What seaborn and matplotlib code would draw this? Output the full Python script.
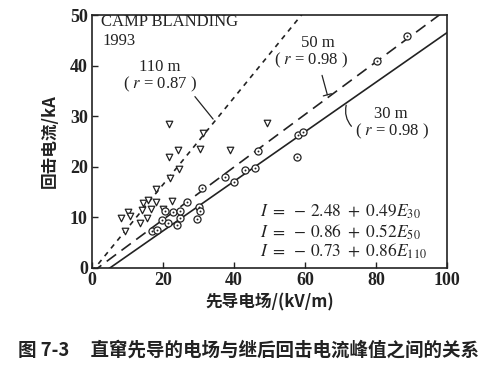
import numpy as np
import pandas as pd
import matplotlib
matplotlib.use("Agg")
import matplotlib.pyplot as plt
import seaborn as sns

# 110 m data (inverted triangles)
e110 = [8.1, 9.3, 10.2, 10.7, 13.5, 14.0, 14.3, 15.4, 15.9, 16.5, 18.0, 18.0,
        20.1, 22.0, 21.8, 22.4, 21.8, 24.3, 24.6, 30.4, 31.3, 38.9, 49.4]
i110 = [9.8, 7.2, 11.0, 10.2, 8.8, 11.4, 12.8, 9.8, 13.4, 11.7, 13.1, 15.7,
        11.6, 17.8, 21.9, 13.3, 28.5, 23.4, 19.6, 23.5, 26.6, 23.4, 28.7]

# 50 m data
e50 = [16.8, 18.2, 19.6, 20.6, 22.9, 26.8, 30.9, 37.5, 46.8, 80.2, 88.6]
i50 = [7.2, 7.5, 9.5, 11.2, 11.0, 13.1, 15.8, 18.0, 23.2, 40.9, 45.8]

# 30 m data
e30 = [21.5, 23.9, 24.8, 24.8, 29.5, 30.2, 30.4, 40.0, 43.1, 45.9, 57.7, 58.0, 59.3]
i30 = [8.8, 8.5, 9.8, 11.2, 9.6, 12.1, 11.3, 16.9, 19.4, 19.7, 22.0, 26.3, 26.9]

# regression lines I = a + b*E (from the chart)
fit_names = ["30 m", "50 m", "110 m"]
fit_a = [-2.48, -0.86, -0.73]
fit_b = [0.49, 0.52, 0.86]

x_ticks = [0, 20, 40, 60, 80, 100]
y_ticks = [0, 10, 20, 30, 40, 50]

sns.set_theme(style="ticks")
plt.rcParams["font.family"] = ["Liberation Serif", "Noto Sans CJK SC", "DejaVu Sans"]
plt.rcParams["mathtext.fontset"] = "stix"
cjk = ["Noto Sans CJK SC", "DejaVu Sans"]

fig = plt.figure(figsize=(5.0, 3.67), dpi=100)
ax = fig.add_axes([0.184, 0.270, 0.710, 0.689])

# fit lines
e_grid = np.linspace(0, 100, 201)
lines = pd.DataFrame({
    "E": np.tile(e_grid, 3),
    "I": np.concatenate([a + b * e_grid for a, b in zip(fit_a, fit_b)]),
    "site": np.repeat(fit_names, len(e_grid)),
})
styles = {"30 m": "-", "50 m": (0, (7, 4)), "110 m": (0, (3, 3))}
for name in fit_names:
    sub = lines[lines["site"] == name]
    sns.lineplot(data=sub, x="E", y="I", ax=ax, color="#222222", lw=1.2,
                 linestyle=styles[name], legend=False)

# points
pts110 = pd.DataFrame({"E": e110, "I": i110})
sns.scatterplot(data=pts110, x="E", y="I", ax=ax, marker="v", s=22,
                facecolor="white", edgecolor="#222222", linewidth=0.9, zorder=3)
circ = pd.DataFrame({"E": e50 + e30, "I": i50 + i30})
sns.scatterplot(data=circ, x="E", y="I", ax=ax, marker="o", s=26,
                facecolor="white", edgecolor="#222222", linewidth=0.9, zorder=3)
sns.scatterplot(data=circ, x="E", y="I", ax=ax, marker="o", s=2,
                color="#222222", linewidth=0, zorder=4)

ax.set_xlim(0, 100)
ax.set_ylim(0, 50)
ax.set_xticks(x_ticks)
ax.set_yticks(y_ticks)
ax.tick_params(direction="in", length=4, width=1.0, labelsize=13,
               colors="#222222", pad=3)
for lab in ax.get_xticklabels() + ax.get_yticklabels():
    lab.set_fontweight("bold")
for sp in ax.spines.values():
    sp.set_visible(True)
    sp.set_linewidth(1.2)
    sp.set_color("#222222")

ax.set_xlabel("先导电场/(kV/m)", family=cjk, fontsize=12, fontweight="bold",
              color="#222222", labelpad=3)
ax.set_ylabel("回击电流/kA", family=cjk, fontsize=12, fontweight="bold",
              color="#222222", labelpad=8)

# annotations
txt = dict(fontsize=12, color="#222222")
ax.text(2.5, 48.7, "CAMP BLANDING", va="center", ha="left", **txt)
ax.text(3.0, 44.8, "1993", va="center", ha="left", **txt)

ax.text(19.2, 39.7, "110 m", ha="center", va="center", **txt)
ax.text(19.2, 36.3, r"( $r$ = 0.87 )", ha="center", va="center", **txt)
ax.annotate("", xy=(34.6, 29.0), xytext=(28.5, 34.3),
            arrowprops=dict(arrowstyle="-", color="#222222", lw=0.9))

ax.text(63.7, 44.4, "50 m", ha="center", va="center", **txt)
ax.text(61.6, 41.0, r"( $r$ = 0.98 )", ha="center", va="center", **txt)
ax.annotate("", xy=(66.5, 33.7), xytext=(64.6, 38.6),
            arrowprops=dict(arrowstyle="-[, widthB=0.25, lengthB=0", color="#222222", lw=0.9))

ax.text(84.3, 30.5, "30 m", ha="center", va="center", **txt)
ax.text(84.4, 27.0, r"( $r$ = 0.98 )", ha="center", va="center", **txt)
ax.annotate("", xy=(71.8, 32.7), xytext=(73.6, 27.6),
            arrowprops=dict(arrowstyle="-", color="#222222", lw=0.9,
                            connectionstyle="arc3,rad=-0.3"))

eq = dict(fontsize=12.5, color="#222222", ha="left", va="center")
ax.text(47.3, 11.1, r"$I\ =\ -\,2.48\ +\ 0.49E_{30}$", **eq)
ax.text(47.3, 7.1, r"$I\ =\ -\,0.86\ +\ 0.52E_{50}$", **eq)
ax.text(47.3, 3.2, r"$I\ =\ -\,0.73\ +\ 0.86E_{110}$", **eq)

fig.text(0.036, 0.046, "图 7-3     直窜先导的电场与继后回击电流峰值之间的关系",
         family=cjk, fontsize=13.3, fontweight="bold", color="#222222",
         ha="left", va="center")

fig.savefig("out.png", dpi=100, facecolor="white")
